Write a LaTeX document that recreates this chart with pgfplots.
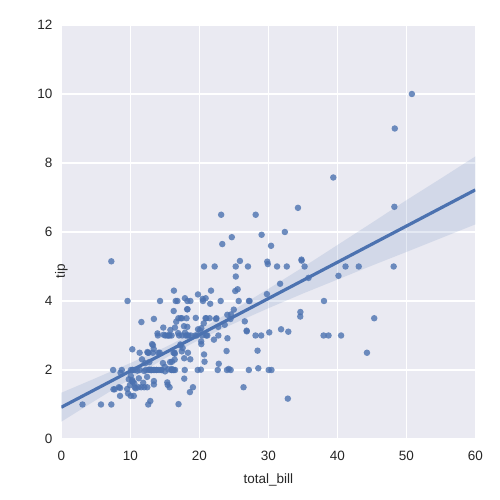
\documentclass[border=0pt]{standalone}
\usepackage{fontspec}
\setmainfont{Liberation Sans}
\usepackage{pgfplots}
\pgfplotsset{compat=1.18}
\usepgfplotslibrary{fillbetween}
\definecolor{sbblue}{HTML}{4C72B0}
\definecolor{sbbg}{HTML}{EAEAF2}
\definecolor{sbtext}{HTML}{262626}
\begin{document}
\begin{tikzpicture}
\begin{axis}[
  at={(0,0)}, anchor=south west,
  scale only axis, width=414pt, height=414pt,
  xmin=0, xmax=60, ymin=0, ymax=12,
  xtick={0,10,20,30,40,50,60}, ytick={0,2,4,6,8,10,12},
  axis background/.style={fill=sbbg},
  axis line style={draw=none},
  tick style={draw=none},
  grid=major,
  major grid style={white, line width=1.3pt},
  /pgf/number format/assume math mode=true,
  tick label style={font=\fontsize{13.5pt}{16pt}\selectfont, text=sbtext},
  label style={font=\fontsize{13.5pt}{16pt}\selectfont, text=sbtext},
  xticklabel style={yshift=-9pt},
  yticklabel style={xshift=-5.5pt},
  xlabel={total\_bill}, ylabel={tip},
  xlabel style={at={(axis description cs:0.5,0)}, anchor=center, yshift=-41pt},
  ylabel style={at={(axis description cs:0,0.5)}, anchor=center, xshift=-39pt},
  clip=true,
]
\addplot[only marks, color=sbblue, mark=*, mark size=3.25pt, mark options={fill=sbblue, draw=sbblue, fill opacity=0.8, draw opacity=0}] table[row sep=\\] {
x y\\
16.99 1.01\\ 10.34 1.66\\ 21.01 3.5\\ 23.68 3.31\\ 24.59 3.61\\ 25.29 4.71\\ 8.77 2.0\\ 26.88 3.12\\
15.04 1.96\\ 14.78 3.23\\ 10.27 1.71\\ 35.26 5.0\\ 15.42 1.57\\ 18.43 3.0\\ 14.83 3.02\\ 21.58 3.92\\
10.33 1.67\\ 16.29 3.71\\ 16.97 3.5\\ 20.65 3.35\\ 17.92 4.08\\ 20.29 2.75\\ 15.77 2.23\\ 39.42 7.58\\
19.82 3.18\\ 17.81 2.34\\ 13.37 2.0\\ 12.69 2.0\\ 21.7 4.3\\ 19.65 3.0\\ 9.55 1.45\\ 18.35 2.5\\
15.06 3.0\\ 20.69 2.45\\ 17.78 3.27\\ 24.06 3.6\\ 16.31 2.0\\ 16.93 3.07\\ 18.69 2.31\\ 31.27 5.0\\
16.04 2.24\\ 17.46 2.54\\ 13.94 3.06\\ 9.68 1.32\\ 30.4 5.6\\ 18.29 3.0\\ 22.23 5.0\\ 32.4 6.0\\
28.55 2.05\\ 18.04 3.0\\ 12.54 2.5\\ 10.29 2.6\\ 34.81 5.2\\ 9.94 1.56\\ 25.56 4.34\\ 19.49 3.51\\
38.01 3.0\\ 26.41 1.5\\ 11.24 1.76\\ 48.27 6.73\\ 20.29 3.21\\ 13.81 2.0\\ 11.02 1.98\\ 18.29 3.76\\
17.59 2.64\\ 20.08 3.15\\ 16.45 2.47\\ 3.07 1.0\\ 20.23 2.01\\ 15.01 2.09\\ 12.02 1.97\\ 17.07 3.0\\
26.86 3.14\\ 25.28 5.0\\ 14.73 2.2\\ 10.51 1.25\\ 17.92 3.08\\ 27.2 4.0\\ 22.76 3.0\\ 17.29 2.71\\
19.44 3.0\\ 16.66 3.4\\ 10.07 1.83\\ 32.68 5.0\\ 15.98 2.03\\ 34.83 5.17\\ 13.03 2.0\\ 18.28 4.0\\
24.71 5.85\\ 21.16 3.0\\ 28.97 3.0\\ 22.49 3.5\\ 5.75 1.0\\ 16.32 4.3\\ 22.75 3.25\\ 40.17 4.73\\
27.28 4.0\\ 12.03 1.5\\ 21.01 3.0\\ 12.46 1.5\\ 11.35 2.5\\ 15.38 3.0\\ 44.3 2.5\\ 22.42 3.48\\
20.92 4.08\\ 15.36 1.64\\ 20.49 4.06\\ 25.21 4.29\\ 18.24 3.76\\ 14.31 4.0\\ 14.0 3.0\\ 7.25 1.0\\
38.07 4.0\\ 23.95 2.55\\ 25.71 4.0\\ 17.31 3.5\\ 29.93 5.07\\ 10.65 1.5\\ 12.43 1.8\\ 24.08 2.92\\
11.69 2.31\\ 13.42 1.68\\ 14.26 2.5\\ 15.95 2.0\\ 12.48 2.52\\ 29.8 4.2\\ 8.52 1.48\\ 14.52 2.0\\
11.38 2.0\\ 22.82 2.18\\ 19.08 1.5\\ 20.27 2.83\\ 11.17 1.5\\ 12.26 2.0\\ 18.26 3.25\\ 8.51 1.25\\
10.33 2.0\\ 14.15 2.0\\ 16.0 2.0\\ 13.16 2.75\\ 17.47 3.5\\ 34.3 6.7\\ 41.19 5.0\\ 27.05 5.0\\
16.43 2.3\\ 8.35 1.5\\ 18.64 1.36\\ 11.87 1.63\\ 9.78 1.73\\ 7.51 2.0\\ 14.07 2.5\\ 13.13 2.0\\
17.26 2.74\\ 24.55 2.0\\ 19.77 2.0\\ 29.85 5.14\\ 48.17 5.0\\ 25.0 3.75\\ 13.39 2.61\\ 16.49 2.0\\
21.5 3.5\\ 12.66 2.5\\ 16.21 2.0\\ 13.81 2.0\\ 17.51 3.0\\ 24.52 3.48\\ 20.76 2.24\\ 31.71 4.5\\
10.59 1.61\\ 10.63 2.0\\ 50.81 10.0\\ 15.81 3.16\\ 7.25 5.15\\ 31.85 3.18\\ 16.82 4.0\\ 32.9 3.11\\
17.89 2.0\\ 14.48 2.0\\ 9.6 4.0\\ 34.63 3.55\\ 34.65 3.68\\ 23.33 5.65\\ 45.35 3.5\\ 23.17 6.5\\
40.55 3.0\\ 20.69 5.0\\ 20.9 3.5\\ 30.46 2.0\\ 18.15 3.5\\ 23.1 4.0\\ 15.69 1.5\\ 19.81 4.19\\
28.44 2.56\\ 15.48 2.02\\ 16.58 4.0\\ 7.56 1.44\\ 10.34 2.0\\ 43.11 5.0\\ 13.0 2.0\\ 13.51 2.0\\
18.71 4.0\\ 12.74 2.01\\ 13.0 2.0\\ 16.4 2.5\\ 20.53 4.0\\ 16.47 3.23\\ 26.59 3.41\\ 38.73 3.0\\
24.27 2.03\\ 12.76 2.23\\ 30.06 2.0\\ 25.89 5.16\\ 48.33 9.0\\ 13.27 2.5\\ 28.17 6.5\\ 12.9 1.1\\
28.15 3.0\\ 11.59 1.5\\ 7.74 1.44\\ 30.14 3.09\\ 12.16 2.2\\ 13.42 3.48\\ 8.58 1.92\\ 15.98 3.0\\
13.42 1.58\\ 16.27 2.5\\ 10.09 2.0\\ 20.45 3.0\\ 13.28 2.72\\ 22.12 2.88\\ 24.01 2.0\\ 15.69 3.0\\
11.61 3.39\\ 10.77 1.47\\ 15.53 3.0\\ 10.07 1.25\\ 12.6 1.0\\ 32.83 1.17\\ 35.83 4.67\\ 29.03 5.92\\
27.18 2.0\\ 22.67 2.0\\ 17.82 1.75\\ 18.78 3.0\\
};
\addplot[name path=upper, draw=none, forget plot] table[row sep=\\] {
x y\\ 0 1.34\\ 5 1.765\\ 10 2.20\\ 15 2.655\\ 20 3.16\\ 25 3.745\\ 30 4.35\\ 35 4.975\\ 40 5.62\\ 45 6.265\\ 50 6.92\\ 55 7.55\\ 60 8.19\\
};
\addplot[name path=lower, draw=none, forget plot] table[row sep=\\] {
x y\\ 0 0.50\\ 5 1.125\\ 10 1.74\\ 15 2.335\\ 20 2.88\\ 25 3.345\\ 30 3.79\\ 35 4.215\\ 40 4.62\\ 45 5.025\\ 50 5.42\\ 55 5.82\\ 60 6.22\\
};
\addplot[fill=sbblue, fill opacity=0.15, draw=none] fill between[of=upper and lower];
\addplot[sbblue, line width=3.2pt] table[row sep=\\] {
x y\\ 0 0.9203\\ 60 7.2203\\
};
\end{axis}
\pgfresetboundingbox
\path[use as bounding box] (-61.3pt,-61pt) rectangle (438.7pt,439pt);
\end{tikzpicture}
\end{document}
